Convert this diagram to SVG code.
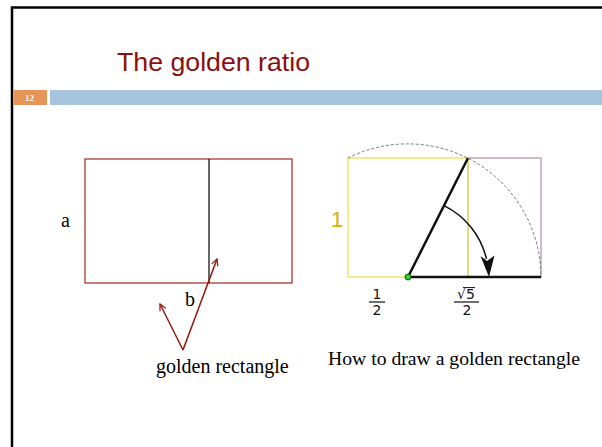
<svg xmlns="http://www.w3.org/2000/svg" width="602" height="447" viewBox="0 0 602 447">
<style>
.serif{font-family:"Liberation Serif","Times New Roman",serif;fill:#000}
.frac{font-family:"DejaVu Sans","Liberation Sans",sans-serif;font-size:14px;fill:#111;text-anchor:middle}
.red{stroke:#a0281e;fill:none}
.arrow{stroke:#9b1b10;stroke-width:1.6;fill:none}
</style>
<defs>
<marker id="open" viewBox="0 0 10 10" refX="9" refY="5" markerWidth="8" markerHeight="8" markerUnits="userSpaceOnUse" orient="auto">
<path d="M1,1 L9,5 L1,9" fill="none" stroke="#9b1b10" stroke-width="1.6"/>
</marker>
</defs>
<rect width="602" height="447" fill="#fff"/>
<g id="frame">
<path d="M12,447 V7.5 H602" fill="none" stroke="#000" stroke-width="2.5"/>
</g>
<g id="header">
<text x="117" y="71" font-family="'Liberation Sans',Arial,sans-serif" font-size="26" fill="#8b0f0f" textLength="193" lengthAdjust="spacingAndGlyphs">The golden ratio</text>
<rect x="13.5" y="90" width="33.5" height="15" fill="#e8955a"/>
<rect x="50" y="90" width="552" height="15" fill="#a5c3db"/>
<text x="29.5" y="100.5" font-family="'Liberation Serif',serif" font-size="9" font-weight="bold" fill="#fff" text-anchor="middle">12</text>
</g>
<g id="golden-rect">
<rect x="85" y="159" width="207" height="124" class="red" stroke-width="1.2"/>
<line x1="209" y1="159" x2="209" y2="283" stroke="#000" stroke-width="1.2"/>
<text class="serif" x="61" y="227" font-size="20">a</text>
<text class="serif" x="185" y="306" font-size="20">b</text>
</g>
<g id="connectors">
<line class="arrow" x1="183" y1="350" x2="160" y2="304" marker-end="url(#open)"/>
<line class="arrow" x1="183" y1="350" x2="217" y2="259" marker-end="url(#open)"/>
</g>
<g id="label-golden">
<text class="serif" x="156" y="373" font-size="20">golden rectangle</text>
</g>
<g id="construction">
<rect x="468" y="158" width="73" height="119" fill="none" stroke="#b9a9b9" stroke-width="1.5"/>
<rect x="348" y="158" width="120" height="119" fill="none" stroke="#f2e268" stroke-width="1.5"/>
<path d="M348,158 A133.3,133.3 0 0,1 541,277" fill="none" stroke="#777" stroke-width="1" stroke-dasharray="3,2"/>
<line x1="408" y1="277" x2="468" y2="158" stroke="#111" stroke-width="2.5"/>
<line x1="408" y1="277" x2="541" y2="277" stroke="#111" stroke-width="2.5"/>
<path d="M444,205.6 A80,80 0 0,1 486.5,259" fill="none" stroke="#111" stroke-width="1.5"/>
<path d="M489,277 L480.5,256 L487,261 L494.5,255.5 Z" fill="#111"/>
<circle cx="408" cy="277" r="3" fill="#2ed12e" stroke="#0a5a0a" stroke-width="1"/>
<text x="331" y="227" font-family="'Liberation Sans',Arial,sans-serif" font-size="22" fill="#d8b000">1</text>
<text class="frac" x="377" y="299">1</text>
<line x1="369" y1="302" x2="385" y2="302" stroke="#111" stroke-width="1.2"/>
<text class="frac" x="377" y="314.5">2</text>
<text class="frac" x="466" y="298.5">√5</text>
<line x1="463" y1="287.6" x2="475" y2="287.6" stroke="#111" stroke-width="1"/>
<line x1="454" y1="302" x2="479" y2="302" stroke="#111" stroke-width="1.2"/>
<text class="frac" x="467" y="314.5">2</text>
</g>
<g id="label-how">
<text class="serif" x="328" y="365" font-size="19.7">How to draw a golden rectangle</text>
</g>
</svg>
